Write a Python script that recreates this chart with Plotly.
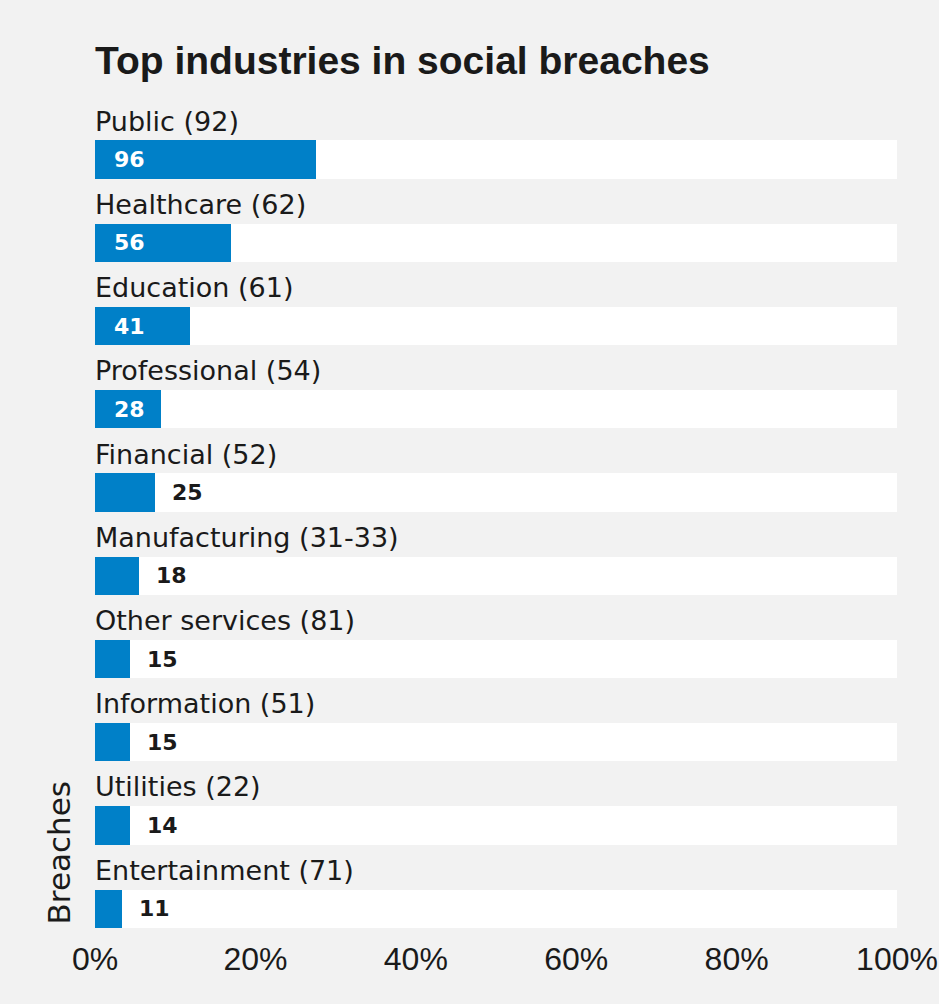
import plotly.graph_objects as go

# ---- data ----
industries = ["Public (92)", "Healthcare (62)", "Education (61)", "Professional (54)",
              "Financial (52)", "Manufacturing (31-33)", "Other services (81)",
              "Information (51)", "Utilities (22)", "Entertainment (71)"]
breaches = [96, 56, 41, 28, 25, 18, 15, 15, 14, 11]
share_pct = [27.6, 17.0, 11.9, 8.2, 7.5, 5.5, 4.4, 4.4, 4.4, 3.4]
x_tick_vals = [0, 20, 40, 60, 80, 100]
x_tick_text = ["0%", "20%", "40%", "60%", "80%", "100%"]
title_text = "Top industries in social breaches"
y_title = "Breaches"

BLUE = "#0080c8"
BG = "#f2f2f2"
TXT = "#1a1a1a"
W, H = 939, 1004
L, R, T, B = 94.5, 41.5, 118.4, 71.9
n = len(industries)
y_idx = list(range(n))

fig = go.Figure()
fig.add_trace(go.Bar(y=y_idx, x=[100] * n, orientation="h", width=0.46,
                     marker=dict(color="white", line=dict(width=0)),
                     hoverinfo="skip", showlegend=False))
fig.add_trace(go.Bar(y=y_idx, x=share_pct, orientation="h", width=0.46,
                     marker=dict(color=BLUE, line=dict(width=0)),
                     customdata=breaches, hovertemplate="%{customdata}<extra></extra>",
                     showlegend=False))

ann = []
for i, (name, cnt, pct) in enumerate(zip(industries, breaches, share_pct)):
    # category label above each bar
    ann.append(dict(x=0, y=i, xref="x", yref="y", text=name, showarrow=False,
                    xanchor="left", yanchor="bottom", yshift=21, xshift=-2,
                    font=dict(family="DejaVu Sans", size=27, color=TXT)))
    inside = pct >= 8
    ann.append(dict(x=0 if inside else pct, y=i, xref="x", yref="y", text=str(cnt),
                    showarrow=False, xanchor="left", yanchor="middle",
                    xshift=17 if inside else 15,
                    font=dict(family="DejaVu Sans", size=22, weight="bold",
                              color="white" if inside else TXT)))

ann.append(dict(x=(58 - L) / (W - L - R), y=1 - (853 - T) / (H - T - B),
                xref="paper", yref="paper", text=y_title, textangle=-90,
                showarrow=False, xanchor="center", yanchor="middle",
                font=dict(family="DejaVu Sans", size=31, color=TXT)))

fig.update_layout(
    width=W, height=H, autosize=False,
    margin=dict(l=L, r=R, t=T, b=B, pad=0, autoexpand=False),
    paper_bgcolor=BG, plot_bgcolor=BG,
    barmode="overlay", bargap=0,
    title=dict(text=title_text, x=0, xref="paper", xanchor="left",
               y=1 - 60.5 / H, yref="container", yanchor="middle",
               font=dict(family="Liberation Sans", size=39, weight="bold", color=TXT)),
    xaxis=dict(range=[0, 100], tickvals=x_tick_vals, ticktext=x_tick_text,
               showgrid=False, zeroline=False, showline=False, ticks="",
               ticklabelstandoff=5, automargin=False,
               tickfont=dict(family="Liberation Sans", size=32, color=TXT)),
    yaxis=dict(range=[9.28, -0.5], showticklabels=False, showgrid=False,
               zeroline=False, showline=False, ticks="", automargin=False),
    annotations=ann,
)

fig.write_html("out.html")
